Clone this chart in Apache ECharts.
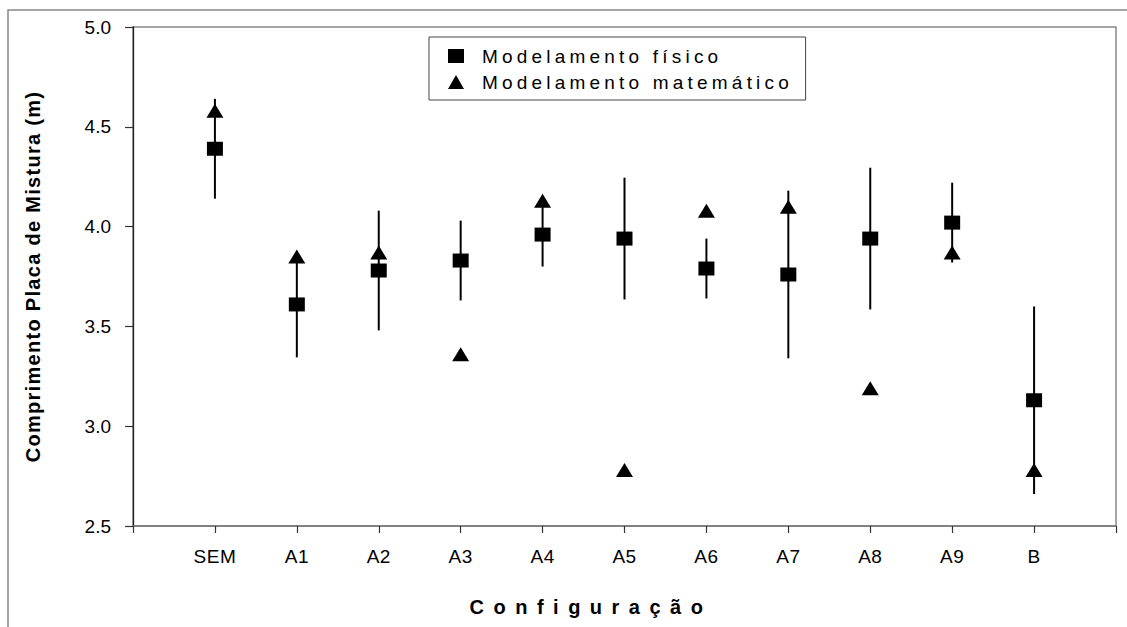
<!DOCTYPE html>
<html><head><meta charset="utf-8">
<script src="https://cdn.jsdelivr.net/npm/echarts@6/dist/echarts.min.js"></script>
<style>html,body{margin:0;padding:0;background:#fff}#chart{width:1127px;height:627px}</style>
</head><body><div id="chart"></div>
<script>
const categories = ['SEM','A1','A2','A3','A4','A5','A6','A7','A8','A9','B'];
const fisico = [4.39,3.61,3.78,3.83,3.96,3.94,3.79,3.76,3.94,4.02,3.13];
const erroFisico = [0.25,0.265,0.30,0.20,0.16,0.305,0.15,0.42,0.355,0.20,0.47];
const matematico = [4.58,3.85,3.87,3.36,4.13,2.78,4.08,4.10,3.19,3.87,2.78];
const seriesNames = ['Modelamento físico','Modelamento matemático'];
const xTitle = 'Configuração';
const yTitle = 'Comprimento Placa de Mistura (m)';

const FONT = "'Liberation Sans', Arial, sans-serif";
const axisCats = [''].concat(categories, [' ']);

const chart = echarts.init(document.getElementById('chart'), null, {renderer: 'svg'});
chart.setOption({
  animation: false,
  backgroundColor: '#fff',
  textStyle: {fontFamily: FONT},
  graphic: [{
    type: 'rect', z: -10, silent: true,
    shape: {x: 8, y: 10, width: 1300, height: 800},
    style: {fill: null, stroke: '#888', lineWidth: 1.5}
  }],
  grid: {left: 133, right: 11, top: 27, bottom: 101, show: true, borderColor: '#888', borderWidth: 1.5, backgroundColor: 'transparent'},
  legend: {
    orient: 'vertical', left: 429, top: 37,
    data: seriesNames,
    itemWidth: 16, itemHeight: 14, itemGap: 6,
    padding: [9, 105, 8, 19],
    borderColor: '#444', borderWidth: 1,
    textStyle: {fontSize: 19, color: '#000', fontFamily: FONT, lineHeight: 20, padding: [0, 0, 0, 13]}
  },
  xAxis: {
    type: 'category', data: axisCats, boundaryGap: false,
    name: xTitle, nameLocation: 'middle', nameGap: 71,
    nameTextStyle: {fontSize: 20, fontWeight: 'bold', color: '#000', fontFamily: FONT, padding: [0, 67, 0, 0]},
    axisLine: {lineStyle: {color: '#777', width: 1.5}},
    axisTick: {show: true, inside: false, length: 7, alignWithLabel: true, interval: 0, lineStyle: {color: '#333', width: 1.2}},
    axisLabel: {interval: 0, fontSize: 19, color: '#000', margin: 21, fontFamily: FONT},
    splitLine: {show: false}
  },
  yAxis: {
    type: 'value', min: 2.5, max: 5.0, interval: 0.5,
    name: yTitle, nameLocation: 'middle', nameGap: 90,
    nameTextStyle: {fontSize: 20, fontWeight: 'bold', color: '#000', fontFamily: FONT},
    axisLine: {show: true, lineStyle: {color: '#222', width: 1.3}},
    axisTick: {show: true, length: 8, lineStyle: {color: '#333', width: 1.2}},
    axisLabel: {fontSize: 19, color: '#000', margin: 22, fontFamily: FONT, formatter: v => v.toFixed(1)},
    splitLine: {show: false}
  },
  series: [
    {
      type: 'custom', name: 'erro', silent: true, z: 1,
      data: fisico.map((v, i) => [i + 1, v - erroFisico[i], v + erroFisico[i]]),
      encode: {x: 0, y: [1, 2]},
      renderItem: function (params, api) {
        const x = api.value(0);
        const lo = api.coord([x, api.value(1)]);
        const hi = api.coord([x, api.value(2)]);
        return {type: 'line', shape: {x1: lo[0], y1: lo[1], x2: hi[0], y2: hi[1]}, style: {stroke: '#000', lineWidth: 2}};
      }
    },
    {
      type: 'scatter', name: seriesNames[0], z: 3,
      symbol: 'rect', symbolSize: [16, 14],
      itemStyle: {color: '#000', opacity: 1},
      data: fisico.map((v, i) => [i + 1, v])
    },
    {
      type: 'scatter', name: seriesNames[1], z: 3,
      symbol: 'triangle', symbolSize: [17, 14],
      itemStyle: {color: '#000', opacity: 1},
      data: matematico.map((v, i) => [i + 1, v])
    }
  ]
});

const spacing = {};
spacing[seriesNames[0]] = 4.2;
spacing[seriesNames[1]] = 4.2;
spacing[xTitle] = 9.5;
spacing[yTitle] = 1.3;
categories.forEach(c => spacing[c] = 0.5);
function applySpacing() {
  document.querySelectorAll('#chart text').forEach(t => {
    const s = spacing[t.textContent.trim()];
    if (s !== undefined) t.style.letterSpacing = s + 'px';
  });
}
applySpacing();
chart.on('finished', applySpacing);
setTimeout(applySpacing, 50);
</script></body></html>
